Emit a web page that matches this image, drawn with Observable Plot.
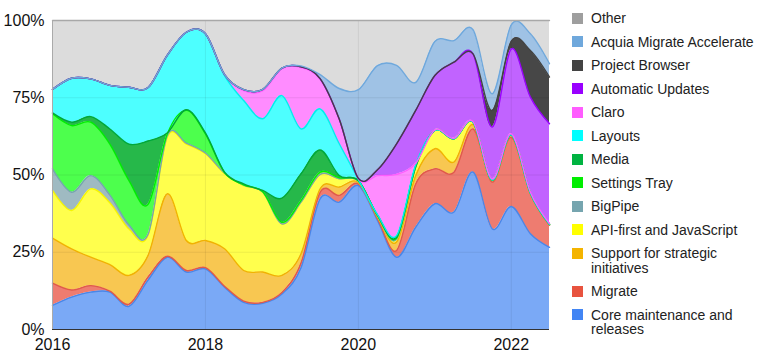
<!DOCTYPE html>
<html>
<head>
<meta charset="utf-8">
<script src="https://cdn.jsdelivr.net/npm/d3@7"></script>
<script src="https://cdn.jsdelivr.net/npm/@observablehq/plot@0.6"></script>
<style>
  html, body { margin: 0; padding: 0; background: #fff; }
  #wrap { position: relative; width: 768px; height: 360px; overflow: hidden; font-family: "Liberation Sans", Arial, sans-serif; }
  #chart { position: absolute; left: 0; top: 0; }
  #legend { position: absolute; left: 572px; top: 11px; width: 190px; }
  .item { display: flex; align-items: flex-start; margin-bottom: 9px; font-size: 14px; line-height: 14.5px; color: #222; }
  .sw { width: 11px; height: 11px; margin-top: 1.75px; flex: 0 0 11px; }
  .lbl { margin-left: 8px; width: 172px; }
</style>
</head>
<body>
<div id="wrap">
  <div id="chart"></div>
  <div id="legend"></div>
</div>
<script>
// Quarter positions (years)
const quarters = [2016, 2016.25, 2016.5, 2016.75, 2017, 2017.25, 2017.5, 2017.75, 2018, 2018.25, 2018.5, 2018.75,
  2019, 2019.25, 2019.5, 2019.75, 2020, 2020.25, 2020.5, 2020.75, 2021, 2021.25, 2021.5, 2021.75, 2022, 2022.25, 2022.5];

// Shares (%) per series, bottom of the stack to top
const core        = [7.8, 10.5, 12.1, 12.1, 7.5, 16.0, 23.4, 18.6, 19.6, 13.7, 8.8, 8.5, 11.5, 20.0, 42.3, 41.2, 46.6, 35.3, 23.4, 33.1, 40.7, 38.0, 50.9, 32.6, 39.8, 31.0, 26.6];
const migrate     = [7.2, 2.3, 2.1, 0.3, 0.7, 1.0, 0.3, 0.5, 0.4, 0.3, 0.4, 0.3, 0.5, 1.5, 2.1, 2.2, 0.5, 0.6, 2.2, 14.0, 11.3, 12.9, 14.0, 15.1, 22.4, 12.9, 7.1];
const support     = [14.6, 13.3, 9.2, 8.6, 9.3, 7.0, 20.2, 9.7, 8.8, 12.1, 9.9, 9.8, 5.5, 3.0, 1.1, 2.7, 0.5, 0.5, 2.7, 2.7, 6.5, 3.3, 1.4, 0.5, 0.6, 0.2, 0.2];
const apiFirst    = [15.4, 12.4, 22.1, 20.0, 15.0, 6.5, 18.3, 31.2, 28.1, 24.3, 27.5, 25.8, 16.7, 16.7, 4.7, 2.7, 0.4, 0.4, 1.0, 2.7, 5.9, 7.5, 0.8, 0.2, 0.2, 0.1, 0.1];
const bigPipe     = [7.0, 5.9, 4.3, 2.5, 1.3, 0.3, 0.4, 0.3, 0.2, 0.2, 0.1, 0.1, 0, 0, 0, 0, 0, 0, 0, 0, 0, 0, 0, 0, 0, 0, 0];
const settings    = [17.8, 21.6, 17.3, 16.5, 14.4, 9.7, 0.6, 10.6, 6.2, 0.1, 0.1, 0.1, 0.5, 0.5, 0.7, 0.3, 0.1, 0.1, 0.3, 0.2, 0, 0, 0, 0, 0, 0, 0];
const media       = [0.3, 1.1, 1.8, 4.9, 11.8, 20.5, 0.4, 0.2, 0.3, 0.2, 0.3, 0.4, 7.8, 8.7, 7.2, 0.7, 0.1, 0.1, 0.3, 0.2, 0, 0, 0, 0, 0, 0, 0];
const layouts     = [7.6, 14.2, 12.2, 14.1, 18.4, 17.3, 25.1, 25.1, 32.1, 31.2, 27.0, 23.2, 33.2, 14.5, 13.3, 10.3, 0.4, 0.2, 0.5, 0.4, 0, 0, 0, 0, 0, 0, 0];
const claro       = [0, 0, 0, 0, 0, 0, 0, 0, 0, 0.3, 3.2, 9.1, 8.7, 19.9, 9.6, 7.9, 0.2, 12.6, 19.8, 0.5, 0.2, 0.2, 0.2, 0.3, 0.3, 0.3, 0.3];
const autoUpdates = [0, 0, 0, 0, 0, 0, 0, 0, 0, 0, 0.3, 0.4, 0.2, 0.2, 0.2, 0.1, 0.1, 1.9, 9.9, 17.1, 17.6, 24.6, 21.9, 16.8, 27.5, 30.7, 32.3];
const projBrowser = [0, 0, 0, 0, 0, 0, 0, 0, 0, 0, 0, 0, 0, 0, 0, 0, 0, 0, 0, 0, 0, 0, 0, 5.4, 2.5, 15.1, 15.1];
const ama         = [0, 0, 0, 0, 0, 0, 0, 0, 0, 0, 0, 0, 0, 0.3, 1.3, 9.9, 28.7, 33.7, 25.4, 9.1, 11.0, 7.0, 7.8, 5.4, 5.3, 5.4, 4.3];
const other       = [22.3, 18.7, 18.9, 21.0, 21.6, 21.7, 11.3, 3.8, 4.3, 17.5, 22.4, 22.3, 15.4, 14.7, 17.5, 22.0, 22.4, 14.6, 14.5, 20.0, 6.8, 6.5, 3.0, 23.7, 1.4, 4.3, 14.0];

// Series names, bottom to top
const seriesNames = ["Core maintenance and releases", "Migrate", "Support for strategic initiatives",
  "API-first and JavaScript", "BigPipe", "Settings Tray", "Media", "Layouts", "Claro",
  "Automatic Updates", "Project Browser", "Acquia Migrate Accelerate", "Other"];
const seriesValues = [core, migrate, support, apiFirst, bigPipe, settings, media, layouts, claro,
  autoUpdates, projBrowser, ama, other];
const fillColors   = ["#7aa9f6", "#ee7c70", "#f8c751", "#ffff4d", "#9fbac2", "#4dff4d", "#26b84a", "#4dffff", "#ff8cff",
  "#c163ff", "#474747", "#9fc2e5", "#dcdcdc"];
const lineColors   = ["#4a86e8", "#e05a4a", "#f1b300", "#f5f500", "#76a5af", "#00ee00", "#00a83a", "#00eeee", "#ff5cff",
  "#9900ff", "#434343", "#6fa8dc", "#a8a8a8"];
const legendColors = ["#4285f4", "#e8533f", "#f4b400", "#ffff00", "#76a5af", "#00ee00", "#00b341", "#00ffff", "#ff5cff",
  "#9900ff", "#434343", "#6fa8dc", "#9e9e9e"];

const yTicks = [0, 0.25, 0.5, 0.75, 1];
const xTicks = [2016, 2018, 2020, 2022];

const rows = [];
seriesNames.forEach((s, i) => {
  quarters.forEach((t, j) => rows.push({s, i, t, v: seriesValues[i][j]}));
});

const stackOpts = {x: "t", y: "v", z: "s", order: seriesNames, offset: "normalize", curve: "cardinal", tension: 0};

const chart = Plot.plot({
  width: 560,
  height: 360,
  marginLeft: 52,
  marginRight: 11,
  marginTop: 20,
  marginBottom: 31,
  style: {fontFamily: "'Liberation Sans', Arial, sans-serif", background: "transparent"},
  x: {domain: [2016, 2022.5]},
  y: {domain: [0, 1]},
  color: {type: "identity"},
  marks: [
    Plot.areaY(rows, Plot.stackY({...stackOpts, fill: d => fillColors[d.i]})),
    Plot.ruleY([0.25, 0.5, 0.75], {stroke: "#000", strokeOpacity: 0.07}),
    Plot.ruleX([2018, 2020, 2022], {stroke: "#000", strokeOpacity: 0.07}),
    Plot.lineY(rows, Plot.stackY2({...stackOpts, stroke: d => lineColors[d.i], strokeWidth: 1.4})),
    Plot.ruleX([2016], {stroke: "#aaa"}),
    Plot.ruleY([0], {stroke: "#333"}),
    Plot.axisX({ticks: xTicks, tickFormat: d => String(d), tickSize: 0, tickPadding: 9.5, fontSize: 16, fill: "#111", label: null}),
    Plot.axisY({ticks: yTicks, tickFormat: d3.format(".0%"), tickSize: 0, tickPadding: 8, fontSize: 16, fill: "#111", label: null})
  ]
});
document.getElementById("chart").appendChild(chart);

// Legend, top to bottom (reverse of stack order)
const legend = document.getElementById("legend");
for (let i = seriesNames.length - 1; i >= 0; i--) {
  const item = document.createElement("div");
  item.className = "item";
  const sw = document.createElement("div");
  sw.className = "sw";
  sw.style.background = legendColors[i];
  const lbl = document.createElement("div");
  lbl.className = "lbl";
  lbl.textContent = seriesNames[i];
  item.appendChild(sw);
  item.appendChild(lbl);
  legend.appendChild(item);
}
</script>
</body>
</html>
